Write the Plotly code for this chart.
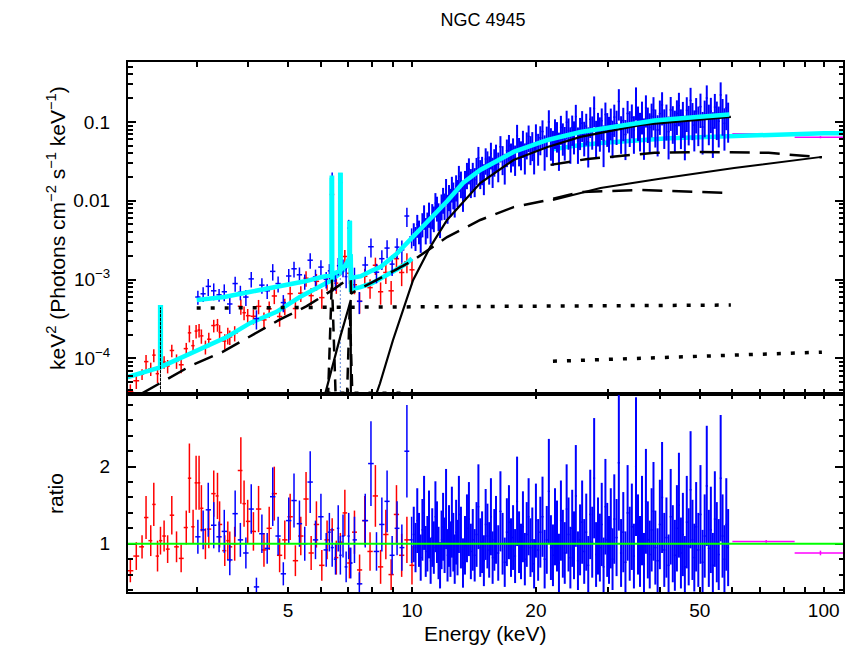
import numpy as np
import plotly.graph_objects as go
from plotly.subplots import make_subplots

# ---------------- data: XMM (red) ----------------
red_e = [2.07, 2.14, 2.21, 2.26, 2.32, 2.36, 2.41, 2.45, 2.50, 2.55,
         2.61, 2.68, 2.75, 2.83, 2.88, 2.94, 2.99, 3.04, 3.08, 3.15,
         3.21, 3.30, 3.37, 3.41, 3.51, 3.57, 3.61, 3.71, 3.84, 3.91,
         3.99, 4.12, 4.24, 4.37, 4.50, 4.63, 4.77, 4.91, 5.06, 5.21,
         5.37, 5.53, 5.69, 5.86, 6.04, 6.22, 6.40, 6.55, 6.70, 6.87,
         7.05, 7.25, 7.46, 7.68, 7.91, 8.15, 8.39, 8.64, 8.90, 9.17,
         9.44, 9.72, 10.0]
red_flux = [3.8e-5, 5.2e-5, 6.3e-5, 9.1e-5, 7.4e-5, 1.10e-4, 6.4e-5, 3.9e-4, 9.0e-5, 8.0e-5,
            1.26e-4, 9.3e-5, 8.3e-5, 1.33e-4, 2.11e-4, 1.45e-4, 2.22e-4, 2.29e-4, 1.93e-4, 1.40e-4,
            1.75e-4, 2.61e-4, 2.67e-4, 2.13e-4, 1.66e-4, 1.98e-4, 1.87e-4, 2.10e-4, 4.58e-4, 3.80e-4,
            3.48e-4, 3.42e-4, 4.57e-4, 3.08e-4, 4.26e-4, 6.19e-4, 3.40e-4, 4.62e-4, 6.62e-4, 4.29e-4,
            6.71e-4, 1.04e-3, 6.25e-4, 9.5e-4, 5.9e-4, 9.45e-4, 1.2e-2, 9.0e-4, 1.7e-2, 1.96e-3,
            1.2e-3, 8.6e-4, 5.3e-4, 1.1e-3, 7.9e-4, 1.52e-3, 7.0e-4, 1.23e-3, 7.2e-4, 1.84e-3,
            1.23e-3, 1.68e-3, 1.33e-3]
red_ratio = [0.65, 0.84, 0.96, 1.34, 1.04, 1.51, 0.84, 1.04, 1.10, 0.93,
             1.37, 0.96, 0.81, 1.21, 1.85, 1.22, 1.79, 1.79, 1.46, 1.00,
             1.19, 1.65, 1.62, 1.25, 0.91, 1.04, 0.96, 1.00, 1.95, 1.52,
             1.29, 1.16, 1.45, 0.92, 1.20, 1.65, 0.85, 1.05, 1.35, 0.78,
             1.10, 1.58, 0.88, 1.25, 0.72, 1.05, 1.18, 0.82, 1.02, 1.40,
             0.75, 1.15, 0.66, 1.30, 0.90, 1.62, 0.70, 1.12, 0.60, 1.38,
             0.85, 1.05, 0.72]
red_ratio_err = [0.15, 0.18, 0.15, 0.28, 0.20, 0.28, 0.20, 0.18, 0.20, 0.18,
                 0.25, 0.20, 0.18, 0.22, 0.45, 0.22, 0.35, 0.35, 0.30, 0.20,
                 0.25, 0.30, 0.30, 0.30, 0.20, 0.25, 0.20, 0.22, 0.43, 0.30,
                 0.28, 0.25, 0.30, 0.22, 0.28, 0.35, 0.22, 0.25, 0.30, 0.20,
                 0.25, 0.35, 0.22, 0.30, 0.20, 0.25, 0.15, 0.22, 0.12, 0.30,
                 0.20, 0.28, 0.20, 0.32, 0.25, 0.40, 0.22, 0.32, 0.20, 0.38,
                 0.28, 0.30, 0.25]

# ---------------- data: NuSTAR (blue) ----------------
blue_e = [3.02, 3.11, 3.20, 3.30, 3.40, 3.50, 3.61, 3.72, 3.83, 3.95,
          4.07, 4.19, 4.32, 4.45, 4.59, 4.73, 4.87, 5.02, 5.17, 5.33,
          5.49, 5.66, 5.83, 6.01, 6.19, 6.30, 6.40, 6.52, 6.62, 6.70,
          6.80, 6.92, 7.02, 7.10, 7.25, 7.45, 7.70, 7.95, 8.20, 8.45,
          8.70, 8.95, 9.20, 9.45, 9.72, 9.98,
          10.1, 10.2, 10.3, 10.4, 10.5, 10.6, 10.7, 10.8, 10.9, 11.0,
          11.1, 11.2, 11.3, 11.4, 11.5, 11.6, 11.7, 11.8, 11.9, 12.0,
          12.1, 12.2, 12.3, 12.4, 12.5, 12.6, 12.7, 12.8, 12.9, 13.0,
          13.15, 13.3, 13.45, 13.6, 13.75, 13.9, 14.05, 14.2, 14.35, 14.5,
          14.65, 14.8, 14.95, 15.1, 15.25, 15.4, 15.55, 15.7, 15.85, 16.0,
          16.2, 16.4, 16.6, 16.8, 17.0, 17.2, 17.4, 17.6, 17.8, 18.0,
          18.2, 18.4, 18.6, 18.8, 19.0, 19.2, 19.4, 19.6, 19.8, 20.0,
          20.25, 20.5, 20.75, 21.0, 21.25, 21.5, 21.75, 22.0, 22.25, 22.5,
          22.75, 23.0, 23.25, 23.5, 23.75, 24.0, 24.25, 24.5, 24.75, 25.0,
          25.3, 25.6, 25.9, 26.2, 26.5, 26.8, 27.1, 27.4, 27.7, 28.0,
          28.3, 28.6, 28.9, 29.2, 29.5, 29.8, 30.1, 30.4, 30.7, 31.0,
          31.4, 31.8, 32.2, 32.6, 33.0, 33.4, 33.8, 34.2, 34.6, 35.0,
          35.4, 35.8, 36.2, 36.6, 37.0, 37.4, 37.8, 38.2, 38.6, 39.0,
          39.5, 40.0, 40.5, 41.0, 41.5, 42.0, 42.5, 43.0, 43.5, 44.0,
          44.5, 45.0, 45.5, 46.0, 46.5, 47.0, 47.5, 48.0, 48.5, 49.0,
          49.6, 50.2, 50.8, 51.4, 52.0, 52.6, 53.2, 53.8, 54.4, 55.0,
          55.6, 56.2, 56.8, 57.4, 58.0, 58.6]
blue_flux = [6.0e-4, 6.6e-4, 8.2e-4, 7.2e-4, 6.4e-4, 7.0e-4, 4.9e-4, 8.9e-4, 6.9e-4, 6.0e-4,
             1.02e-3, 3.2e-4, 8.5e-4, 7.2e-4, 1.27e-3, 8.9e-4, 5.1e-4, 1.11e-3, 1.37e-3, 1.15e-3,
             9.5e-4, 1.76e-3, 1.08e-3, 1.44e-3, 1.01e-3, 1.29e-3, 1.8e-2, 9.6e-4, 1.5e-3, 1.7e-2,
             1.43e-3, 1.09e-3, 4.5e-3, 1.5e-3, 1.1e-3, 5.3e-4, 1.53e-3, 2.61e-3, 1.24e-3, 1.84e-3,
             2.51e-3, 1.57e-3, 2.58e-3, 2.38e-3, 6.4e-3, 3.47e-3,
             3.92e-3, 3.47e-3, 5.0e-3, 4.2e-3, 3.44e-3, 5.19e-3, 6.51e-3, 4.41e-3, 5.2e-3, 7.0e-3,
             4.6e-3, 6.7e-3, 6.22e-3, 9.32e-3, 8.34e-3, 6.69e-3, 5.76e-3, 8.82e-3, 1.07e-2, 9.02e-3,
             1.39e-2, 8.5e-3, 1.16e-2, 1.02e-2, 1.48e-2, 1.24e-2, 1.02e-2, 1.54e-2, 1.33e-2, 2.03e-2,
             1.71e-2, 1.26e-2, 1.72e-2, 2.21e-2, 2.53e-2, 1.8e-2, 2.19e-2, 1.85e-2, 2.54e-2, 3.51e-2,
             2.34e-2, 2.59e-2, 2.04e-2, 3.38e-2, 3.06e-2, 2.63e-2, 3.97e-2, 2.48e-2, 3.26e-2, 3.75e-2,
             2.9e-2, 4.83e-2, 3.52e-2, 2.77e-2, 4.32e-2, 4.97e-2, 3.8e-2, 4.45e-2, 3.54e-2, 6.68e-2,
             4.49e-2, 4.05e-2, 5.6e-2, 3.74e-2, 5.35e-2, 6.57e-2, 4.71e-2, 5.3e-2, 3.8e-2, 6.8e-2,
             4.92e-2, 6.29e-2, 7.55e-2, 4.58e-2, 6.14e-2, 0.100, 5.77e-2, 5.24e-2, 7.65e-2, 7.01e-2,
             4.85e-2, 8.53e-2, 6.65e-2, 5.93e-2, 9.9e-2, 7.75e-2, 5.74e-2, 8.5e-2, 7.02e-2, 0.117,
             5.72e-2, 7.81e-2, 9.64e-2, 6.85e-2, 8.84e-2, 5.59e-2, 0.108, 8.09e-2, 0.148, 6.94e-2,
             8.95e-2, 7.8e-2, 0.1035, 5.84e-2, 0.124, 8.88e-2, 7.84e-2, 0.103, 6.91e-2, 0.115,
             9.48e-2, 0.182, 7.87e-2, 0.104, 6.92e-2, 0.128, 9.24e-2, 0.114, 7.88e-2, 0.189,
             0.107, 8.63e-2, 0.125, 7.19e-2, 0.151, 0.103, 8.51e-2, 0.117, 0.142, 9.56e-2,
             7.9e-2, 0.1275, 0.164, 9.49e-2, 0.112, 7.52e-2, 0.142, 0.1055, 9.01e-2, 0.128,
             0.161, 9.47e-2, 0.121, 7.6e-2, 0.140, 0.105, 0.187, 0.116, 9.11e-2, 0.136,
             0.103, 0.156, 8.62e-2, 0.125, 0.201, 0.108, 0.137, 8.38e-2, 0.154, 0.120,
             0.102, 0.220, 0.131, 9.6e-2, 0.151, 0.115]
blue_ratio = [1.09, 1.18, 1.44, 1.24, 1.09, 1.16, 0.79, 1.39, 1.05, 0.88,
              1.45, 0.44, 1.13, 0.94, 1.61, 1.10, 0.61, 1.30, 1.56, 1.26,
              1.00, 1.80, 1.05, 1.35, 0.92, 1.15, 0.95, 0.80, 1.20, 0.85,
              1.10, 0.70, 1.10, 0.75, 1.05, 0.48, 1.30, 2.04, 0.90, 1.25,
              1.55, 0.85, 1.20, 0.95, 2.20, 1.05,
              1.12, 0.95, 1.30, 1.05, 0.82, 1.18, 1.40, 0.90, 1.00, 1.25,
              0.78, 1.08, 0.95, 1.35, 1.15, 0.88, 0.72, 1.05, 1.22, 0.98,
              1.45, 0.85, 1.10, 0.93, 1.28, 1.02, 0.80, 1.15, 0.95, 1.38,
              1.08, 0.75, 0.98, 1.20, 1.32, 0.90, 1.05, 0.85, 1.12, 1.48,
              0.95, 1.02, 0.78, 1.25, 1.10, 0.92, 1.35, 0.82, 1.05, 1.18,
              0.88, 1.42, 1.00, 0.76, 1.15, 1.28, 0.95, 1.08, 0.84, 1.55,
              1.02, 0.90, 1.22, 0.80, 1.12, 1.35, 0.95, 1.05, 0.74, 1.30,
              0.92, 1.15, 1.35, 0.80, 1.05, 1.68, 0.95, 0.85, 1.22, 1.10,
              0.75, 1.30, 1.00, 0.88, 1.45, 1.12, 0.82, 1.20, 0.98, 1.62,
              0.78, 1.05, 1.28, 0.90, 1.15, 0.72, 1.38, 1.02, 1.85, 0.86,
              1.10, 0.95, 1.25, 0.70, 1.48, 1.05, 0.92, 1.20, 0.80, 1.32,
              1.08, 2.05, 0.88, 1.15, 0.76, 1.40, 1.00, 1.22, 0.84, 2.00,
              1.12, 0.90, 1.30, 0.74, 1.55, 1.05, 0.86, 1.18, 1.42, 0.95,
              0.78, 1.25, 1.60, 0.92, 1.08, 0.72, 1.35, 1.00, 0.85, 1.20,
              1.50, 0.88, 1.12, 0.70, 1.28, 0.96, 1.70, 1.05, 0.82, 1.22,
              0.92, 1.38, 0.76, 1.10, 1.75, 0.94, 1.18, 0.72, 1.32, 1.02,
              0.86, 1.85, 1.10, 0.80, 1.25, 0.95]
blue_ratio_err = [0.22, 0.25, 0.35, 0.30, 0.20, 0.28, 0.20, 0.30, 0.22, 0.20,
                  0.32, 0.12, 0.25, 0.20, 0.38, 0.25, 0.15, 0.30, 0.35, 0.30,
                  0.22, 0.40, 0.25, 0.30, 0.22, 0.25, 0.25, 0.20, 0.30, 0.25,
                  0.28, 0.20, 0.30, 0.20, 0.30, 0.15, 0.35, 0.55, 0.25, 0.35,
                  0.40, 0.25, 0.35, 0.30, 0.60, 0.30,
                  0.36, 0.32, 0.42, 0.35, 0.30, 0.40, 0.48, 0.33, 0.36, 0.44,
                  0.30, 0.38, 0.34, 0.46, 0.40, 0.34, 0.30, 0.38, 0.44, 0.36,
                  0.52, 0.34, 0.40, 0.36, 0.46, 0.38, 0.32, 0.42, 0.36, 0.50,
                  0.40, 0.32, 0.38, 0.44, 0.48, 0.36, 0.40, 0.34, 0.42, 0.55,
                  0.38, 0.40, 0.33, 0.46, 0.42, 0.36, 0.50, 0.34, 0.40, 0.44,
                  0.36, 0.52, 0.40, 0.32, 0.44, 0.48, 0.38, 0.42, 0.35, 0.58,
                  0.40, 0.36, 0.46, 0.34, 0.42, 0.50, 0.38, 0.42, 0.32, 0.48,
                  0.40, 0.46, 0.52, 0.38, 0.44, 0.68, 0.42, 0.40, 0.50, 0.46,
                  0.38, 0.52, 0.44, 0.40, 0.58, 0.48, 0.40, 0.50, 0.44, 0.66,
                  0.38, 0.46, 0.54, 0.42, 0.50, 0.38, 0.58, 0.46, 0.78, 0.42,
                  0.50, 0.44, 0.54, 0.38, 0.62, 0.48, 0.44, 0.52, 0.40, 0.58,
                  0.50, 0.88, 0.44, 0.52, 0.40, 0.62, 0.48, 0.56, 0.42, 0.90,
                  0.52, 0.46, 0.58, 0.40, 0.68, 0.50, 0.44, 0.54, 0.64, 0.48,
                  0.42, 0.58, 0.72, 0.48, 0.52, 0.40, 0.62, 0.50, 0.46, 0.56,
                  0.68, 0.46, 0.54, 0.40, 0.60, 0.50, 0.76, 0.52, 0.44, 0.58,
                  0.48, 0.64, 0.42, 0.54, 0.78, 0.50, 0.56, 0.42, 0.62, 0.52,
                  0.46, 0.82, 0.54, 0.44, 0.60, 0.50]

# ---------------- data: BAT (magenta) ----------------
bat_lo = [60.0, 85.0]
bat_hi = [85.0, 111.4]
bat_e = [72.5, 98.2]
bat_flux = [0.0705, 0.064]
bat_flux_err = [0.0012, 0.002]
bat_ratio = [1.03, 0.88]
bat_ratio_err = [0.017, 0.03]

# ---------------- models ----------------
nustar_model_e = [3.0, 3.5, 4.0, 4.5, 5.0, 5.5, 6.0, 6.385, 6.385, 6.395, 6.395, 6.55,
                  6.695, 6.695, 6.705, 6.705, 6.85, 7.0, 7.055, 7.055, 7.065, 7.065,
                  7.10, 7.11, 7.5, 8.0, 8.4, 9.2, 10.0, 11.0, 12.2, 13.3, 14.65,
                  17.65, 21.35, 25.66, 30.0, 38.8, 50.0, 59.0]
nustar_model = [5.5e-4, 6.0e-4, 6.9e-4, 7.8e-4, 8.5e-4, 9.5e-4, 1.07e-3, 1.14e-3, 1.95e-2, 1.95e-2, 1.16e-3, 1.22e-3,
                1.3e-3, 2.12e-2, 2.12e-2, 1.32e-3, 1.45e-3, 1.75e-3, 1.9e-3, 5.2e-3, 5.2e-3, 2.0e-3,
                2.1e-3, 1.05e-3, 1.1e-3, 1.3e-3, 1.45e-3, 2.15e-3, 3.35e-3, 5.6e-3, 1.0e-2, 1.68e-2, 2.46e-2,
                4.16e-2, 5.9e-2, 7.46e-2, 8.5e-2, 0.104, 0.116, 0.124]
xmm_model_e = [2.04, 2.2, 2.44, 2.445, 2.445, 2.455, 2.455, 2.73, 3.05, 3.55, 4.04, 4.69, 5.34, 5.97,
               6.38, 6.385, 6.385, 6.395, 6.395, 6.55, 6.695, 6.695, 6.705, 6.705, 6.85, 7.0,
               7.055, 7.055, 7.065, 7.065, 7.10, 7.11, 7.5, 8.0, 8.6, 9.2, 9.7, 10.0]
xmm_model = [5.8e-5, 6.5e-5, 7.6e-5, 7.7e-5, 4.45e-4, 4.45e-4, 7.8e-5, 1.0e-4, 1.28e-4, 1.87e-4, 2.8e-4, 3.9e-4, 6.0e-4, 8.0e-4,
             9.8e-4, 1.0e-3, 1.95e-2, 1.95e-2, 1.02e-3, 1.1e-3, 1.2e-3, 2.12e-2, 2.12e-2, 1.22e-3, 1.35e-3, 1.6e-3,
             1.7e-3, 5.2e-3, 5.2e-3, 1.8e-3, 1.85e-3, 7.5e-4, 8.0e-4, 9.0e-4, 1.1e-3, 1.35e-3, 1.6e-3, 1.85e-3]
bat_model_e = [22.0, 25.0, 28.7, 35.0, 42.0, 50.0, 60.0, 72.0, 85.0, 100.0, 111.4]
bat_model = [0.045, 0.050, 0.054, 0.059, 0.062, 0.064, 0.066, 0.0695, 0.071, 0.072, 0.072]

# components
trans_e = [6.15, 6.4, 6.7, 7.0, 7.10, 7.11, 7.6, 8.0, 8.17, 8.36, 8.99, 10.06, 11.07, 12.17,
           13.62, 14.65, 17.65, 21.35, 25.66, 36.0, 59.5]
trans = [3.5e-5, 8.0e-5, 1.9e-4, 4.2e-4, 5.5e-4, 2.0e-6, 4.0e-6, 1.8e-5, 3.4e-5, 4.8e-5, 1.7e-4, 9.8e-4, 2.58e-3, 5.7e-3,
         1.11e-2, 1.68e-2, 3.29e-2, 4.8e-2, 6.45e-2, 9.16e-2, 0.116]
refl_e = [2.21, 2.92, 3.46, 4.03, 4.77, 5.55, 6.42, 6.94, 7.10, 7.11, 7.2, 8.4, 9.72, 10.06,
          12.17, 14.65, 17.65, 21.35, 25.66, 36.0, 59.5]
refl = [3.6e-5, 8.2e-5, 1.2e-4, 1.9e-4, 3.1e-4, 4.6e-4, 7.4e-4, 9.8e-4, 1.05e-3, 6.6e-4, 6.9e-4, 1.05e-3, 1.6e-3, 1.75e-3,
        3.46e-3, 5.7e-3, 8.3e-3, 1.02e-2, 1.29e-2, 1.37e-2, 1.25e-2]
scat_e = [3.0, 10.0, 30.0, 59.5]
scat = [4.35e-4, 4.5e-4, 4.65e-4, 4.75e-4]
xmm_scat_e = [6.2, 10.0]
xmm_scat = [3.6e-5, 3.6e-5]
fe64_e = [6.25, 6.39, 6.53]
fe64 = [3.0e-5, 1.0e-3, 3.0e-5]
fe706_e = [6.95, 7.06, 7.17]
fe706 = [3.0e-5, 4.5e-4, 3.0e-5]
s_line_e = [2.449, 2.45, 2.451]
s_line = [1e-6, 4.4e-4, 1e-6]
fe67_e = [6.699, 6.70, 6.701]
fe67 = [1e-6, 2.0e-2, 1e-6]
bat_trans_e = [22.0, 28.7, 40.0, 60.6, 99.0]
bat_trans = [0.0102, 0.0145, 0.019, 0.026, 0.036]
bat_refl_e = [21.7, 26.7, 38.8, 50.3, 73.5, 89.8, 99.0]
bat_refl = [0.0285, 0.0339, 0.0405, 0.0416, 0.0405, 0.037, 0.0355]
bat_scat_e = [22.0, 99.0]
bat_scat = [9.2e-5, 1.2e-4]

X_RANGE = [2.043, 111.4]

# ---------------- helpers ----------------
def bin_edges(c):
    c = np.asarray(c, float)
    mid = np.sqrt(c[:-1] * c[1:])
    lo = np.concatenate([[c[0] ** 2 / mid[0]], mid])
    hi = np.concatenate([mid, [c[-1] ** 2 / mid[-1]]])
    return lo, hi


def data_trace(e, y, yerr, color, lo=None, hi=None, thick=1.5):
    e = np.asarray(e, float)
    if lo is None:
        lo, hi = bin_edges(e)
    lo = np.asarray(lo, float)
    hi = np.asarray(hi, float)
    return go.Scatter(
        x=e, y=y, mode="markers",
        marker=dict(size=1, color=color),
        error_x=dict(type="data", symmetric=False, array=hi - e, arrayminus=e - lo,
                     color=color, thickness=1.5, width=0),
        error_y=dict(type="data", array=yerr, color=color, thickness=thick, width=0),
        showlegend=False, hoverinfo="skip")


def line_trace(x, y, color, width, dash="solid"):
    return go.Scatter(x=x, y=y, mode="lines", line=dict(color=color, width=width, dash=dash),
                      showlegend=False, hoverinfo="skip")


red_rel = np.array(red_ratio_err) / np.array(red_ratio)
blue_rel = np.array(blue_ratio_err) / np.array(blue_ratio)
blue_flux_err = np.array(blue_flux) * blue_rel

RED = "#ff0000"
BLUE = "#0000ff"
CYAN = "#00ffff"
MAG = "#ff00ff"
BLK = "#000000"
DASH = "20px,10px"
DOT = "4px,10px"
NLOW = 46  # NuSTAR bins below 10 keV (drawn with thinner bars)

fig = make_subplots(rows=2, cols=1, shared_xaxes=True, vertical_spacing=0,
                    row_heights=[0.6263, 0.3737])

blo, bhi = bin_edges(blue_e)

# ---- top panel ----
fig.add_trace(data_trace(red_e, red_flux, np.array(red_flux) * red_rel, RED), 1, 1)
fig.add_trace(line_trace(xmm_model_e, xmm_model, CYAN, 4.5), 1, 1)
fig.add_trace(data_trace(bat_e, bat_flux, bat_flux_err, MAG, bat_lo, bat_hi), 1, 1)
fig.add_trace(line_trace(bat_model_e, bat_model, CYAN, 4.5), 1, 1)
fig.add_trace(data_trace(blue_e[:NLOW], blue_flux[:NLOW], blue_flux_err[:NLOW], BLUE,
                         blo[:NLOW], bhi[:NLOW]), 1, 1)
fig.add_trace(data_trace(blue_e[NLOW:], blue_flux[NLOW:], blue_flux_err[NLOW:], BLUE,
                         blo[NLOW:], bhi[NLOW:], thick=2.0), 1, 1)

fig.add_trace(line_trace(s_line_e, s_line, BLK, 1, "2px,2px"), 1, 1)
fig.add_trace(line_trace(fe67_e, fe67, "#7f9fdf", 1.2, "2px,2px"), 1, 1)
fig.add_trace(line_trace(xmm_scat_e, xmm_scat, BLK, 3.5, DOT), 1, 1)
fig.add_trace(line_trace(scat_e, scat, BLK, 3.5, DOT), 1, 1)
fig.add_trace(line_trace(bat_scat_e, bat_scat, BLK, 3.5, DOT), 1, 1)
fig.add_trace(line_trace(fe64_e, fe64, BLK, 2.5, "12px,8px"), 1, 1)
fig.add_trace(line_trace(fe706_e, fe706, BLK, 2.5, "12px,8px"), 1, 1)
fig.add_trace(line_trace(refl_e, refl, BLK, 2.5, DASH), 1, 1)
fig.add_trace(line_trace(bat_refl_e, bat_refl, BLK, 2.5, DASH), 1, 1)
fig.add_trace(line_trace(bat_trans_e, bat_trans, BLK, 2), 1, 1)
fig.add_trace(line_trace(trans_e, trans, BLK, 2.2), 1, 1)
fig.add_trace(line_trace(nustar_model_e, nustar_model, CYAN, 4.5), 1, 1)

# ---- ratio panel ----
fig.add_trace(data_trace(red_e, red_ratio, red_ratio_err, RED), 2, 1)
fig.add_trace(data_trace(blue_e[:NLOW], blue_ratio[:NLOW], blue_ratio_err[:NLOW], BLUE,
                         blo[:NLOW], bhi[:NLOW]), 2, 1)
fig.add_trace(data_trace(blue_e[NLOW:], blue_ratio[NLOW:], blue_ratio_err[NLOW:], BLUE,
                         blo[NLOW:], bhi[NLOW:], thick=2.0), 2, 1)
fig.add_trace(data_trace(bat_e, bat_ratio, bat_ratio_err, MAG, bat_lo, bat_hi), 2, 1)
fig.add_hline(y=1, line_color="#00ff00", line_width=2, row=2, col=1)

FONT = "Liberation Sans, Arial, Helvetica, sans-serif"
xr = [np.log10(X_RANGE[0]), np.log10(X_RANGE[1])]
xminor = [2, 3, 4, 6, 7, 8, 9, 30, 40, 60, 70, 80, 90]
axis_common = dict(showline=True, linecolor="black", linewidth=2, mirror="ticks",
                   ticks="inside", tickcolor="black", tickwidth=1.5, showgrid=False,
                   zeroline=False)

for r in (1, 2):
    fig.update_xaxes(type="log", range=xr, tickvals=[5, 10, 20, 50, 100],
                     ticktext=["5", "10", "20", "50", "100"], ticklen=5,
                     minor=dict(ticks="inside", ticklen=5, tickwidth=1.5, tickcolor="black",
                                tickvals=xminor, showgrid=False),
                     tickfont=dict(size=19, family=FONT, color="black"),
                     ticklabelstandoff=0,
                     showticklabels=(r == 2), row=r, col=1, **axis_common)

ylog_minor = [m * 10.0 ** k for k in range(-5, 0) for m in range(2, 10)]
fig.update_yaxes(type="log", range=[-4.451, -0.240],
                 tickvals=[1e-4, 1e-3, 1e-2, 0.1],
                 ticktext=["10<sup>\u22124</sup>", "10<sup>\u22123</sup>", "0.01", "0.1"],
                 ticklen=8,
                 minor=dict(ticks="inside", ticklen=4.5, tickwidth=1.5, tickcolor="black",
                            tickvals=ylog_minor, showgrid=False),
                 tickfont=dict(size=19, family=FONT, color="black"),
                 ticklabelstandoff=12, row=1, col=1, **axis_common)
fig.update_yaxes(range=[0.374, 2.943], tickvals=[1, 2], ticktext=["1", "2"], ticklen=8,
                 minor=dict(ticks="inside", ticklen=4.5, tickwidth=1.5, tickcolor="black",
                            tickvals=[0.4, 0.6, 0.8, 1.2, 1.4, 1.6, 1.8, 2.2, 2.4, 2.6, 2.8],
                            showgrid=False),
                 tickfont=dict(size=19, family=FONT, color="black"),
                 ticklabelstandoff=12, row=2, col=1, **axis_common)

# long decade ticks on the energy axis (overlay axes)
for name, over, anc in (("xaxis3", "x", "y"), ("xaxis4", "x2", "y2")):
    fig.update_layout({name: dict(type="log", range=xr, overlaying=over, anchor=anc,
                                  tickvals=[10, 100], ticks="inside", ticklen=9, tickwidth=1.5,
                                  tickcolor="black", mirror="ticks", showline=False,
                                  showticklabels=False, showgrid=False, zeroline=False)})

fig.update_layout(
    width=858, height=648,
    margin=dict(l=120, r=23, t=54, b=64),
    paper_bgcolor="white", plot_bgcolor="white",
    showlegend=False,
    font=dict(family=FONT, color="black"),
    title=dict(text="NGC 4945", x=0.4965, xref="paper", xanchor="center",
               y=1 - 12 / 648, yref="container", yanchor="middle",
               font=dict(size=18, family=FONT, color="black")),
    annotations=[
        dict(text="Energy (keV)", x=0.5, y=-0.0792, xref="paper", yref="paper",
             xanchor="center", yanchor="middle", showarrow=False,
             font=dict(size=21, family=FONT, color="black")),
        dict(text="keV<sup>2</sup> (Photons cm<sup>\u22122</sup> s<sup>\u22121</sup> keV<sup>\u22121</sup>)",
             x=-0.1007, y=0.6868, xref="paper", yref="paper", textangle=-90,
             xanchor="center", yanchor="middle", showarrow=False,
             font=dict(size=21, family=FONT, color="black")),
        dict(text="ratio", x=-0.1007, y=0.1868, xref="paper", yref="paper", textangle=-90,
             xanchor="center", yanchor="middle", showarrow=False,
             font=dict(size=21, family=FONT, color="black")),
    ],
)

fig.write_html("out.html")
